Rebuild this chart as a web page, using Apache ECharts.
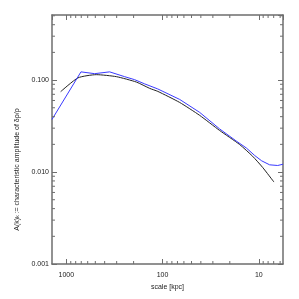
<!DOCTYPE html>
<html><head><meta charset="utf-8">
<script src="https://cdn.jsdelivr.net/npm/echarts@6/dist/echarts.min.js"></script>
<style>html,body{margin:0;padding:0;background:#fff}#c{width:299px;height:299px}</style>
</head><body><div id="c"></div>
<script>
// scale [kpc] and amplitude values
var scaleBlack = [1146, 757, 488, 302, 187, 136, 112, 66.4, 41.1, 25.5, 15.8, 11.6, 9.1, 6.95];
var ampBlack   = [0.0748, 0.1057, 0.1145, 0.1089, 0.0951, 0.0812, 0.0753, 0.0571, 0.0413, 0.0283, 0.0199, 0.01486, 0.0112, 0.00778];
var scaleBlue = [1411, 705, 508, 355, 248, 195, 153.5, 112.5, 66.4, 41.1, 25.5, 17.1, 13.45, 11.03, 9.33, 7.71, 6.36, 5.6];
var ampBlue   = [0.0373, 0.1228, 0.1174, 0.1228, 0.1089, 0.101, 0.0909, 0.0802, 0.0616, 0.0445, 0.0294, 0.0217, 0.01825, 0.01513, 0.01324, 0.01198, 0.01178, 0.01216];
var xTickLabels = [1000, 100, 10];
var yTickLabels = [0.1, 0.01, 0.001];
var minorX = [900, 800, 700, 600, 500, 400, 300, 200, 90, 80, 70, 60, 50, 40, 30, 20, 9, 8, 7, 6];
var minorY = [0.5, 0.4, 0.3, 0.2, 0.09, 0.08, 0.07, 0.06, 0.05, 0.04, 0.03, 0.02, 0.009, 0.008, 0.007, 0.006, 0.005, 0.004, 0.003, 0.002];

var X_MIN = 5.6, X_MAX = 1410, Y_MIN = 0.001, Y_MAX = 0.51;
var axisCol = '#6e6e6e';
var font = 'Liberation Sans';

function isTick(v, list){ for (var i=0;i<list.length;i++){ if (Math.abs(v/list[i]-1) < 1e-6) return true; } return false; }

function xAxisDef(pos, showLabel){
  return {
    type: 'log', logBase: 10, position: pos, inverse: true, min: X_MIN, max: X_MAX,
    axisLine: {show: true, onZero: false, lineStyle: {color: axisCol, width: 1.5}},
    axisTick: {show: true, inside: true, length: 5, lineStyle: {color: axisCol, width: 1}},
    splitLine: {show: false},
    axisLabel: {show: showLabel, showMinLabel: false, showMaxLabel: false, margin: 8, color: '#222', fontFamily: font, fontSize: 7,
      formatter: function(v){ return isTick(v, xTickLabels) ? String(Math.round(v)) : ''; }},
    name: showLabel ? 'scale [kpc]' : '', nameLocation: 'middle', nameGap: 19,
    nameTextStyle: {color: '#222', fontFamily: font, fontSize: 7}
  };
}
function yAxisDef(pos, showLabel){
  return {
    type: 'log', logBase: 10, position: pos, min: Y_MIN, max: Y_MAX,
    axisLine: {show: true, onZero: false, lineStyle: {color: axisCol, width: 1.5}},
    axisTick: {show: true, inside: true, length: 5, lineStyle: {color: axisCol, width: 1}},
    splitLine: {show: false},
    axisLabel: {show: showLabel, showMinLabel: true, showMaxLabel: false, margin: 3, color: '#222', fontFamily: font, fontSize: 7,
      formatter: function(v){ return isTick(v, yTickLabels) ? v.toFixed(3) : ''; }},
    name: showLabel ? '{a|A(k)}{s|k}{a| := characteristic amplitude of δρ/ρ}' : '',
    nameLocation: 'middle', nameGap: 29,
    nameTextStyle: {color: '#222', fontFamily: font, fontSize: 7, padding: [0, 60, 0, 0],
      rich: {a: {fontFamily: font, fontSize: 7, color: '#222'}, s: {fontFamily: font, fontSize: 5, color: '#222', verticalAlign: 'bottom', padding: [3, 0, 0, 0]}}}
  };
}

function pairs(xs, ys){ return xs.map(function(x, i){ return [x, ys[i]]; }); }

var chart = echarts.init(document.getElementById('c'), null, {renderer: 'canvas'});
chart.setOption({
  animation: false,
  backgroundColor: '#fff',
  grid: {left: 52, right: 16, top: 15, bottom: 35, containLabel: false},
  xAxis: [xAxisDef('bottom', true), xAxisDef('top', false)],
  yAxis: [yAxisDef('left', true), yAxisDef('right', false)],
  series: [
    {type: 'line', xAxisIndex: 0, yAxisIndex: 0, data: pairs(scaleBlack, ampBlack), showSymbol: false, symbol: 'none',
     smooth: 0.2, lineStyle: {color: '#222', width: 1}, z: 3},
    {type: 'line', xAxisIndex: 0, yAxisIndex: 0, data: pairs(scaleBlue, ampBlue), showSymbol: false, symbol: 'none',
     lineStyle: {color: '#3a3aff', width: 1}, z: 4},
    {type: 'custom', xAxisIndex: 0, yAxisIndex: 0, silent: true, clip: false, z: 5,
     data: minorX.map(function(v){ return [v, 0.01]; }),
     renderItem: function(params, api){
       var cs = params.coordSys; var x = api.coord([api.value(0), 0.01])[0];
       var st = {stroke: axisCol, lineWidth: 1};
       var b = cs.y + cs.height;
       return {type: 'group', children: [
         {type: 'line', shape: {x1: x, y1: b, x2: x, y2: b - 3}, style: st},
         {type: 'line', shape: {x1: x, y1: cs.y, x2: x, y2: cs.y + 3}, style: st}
       ]};
     }},
    {type: 'custom', xAxisIndex: 0, yAxisIndex: 0, silent: true, clip: false, z: 5,
     data: minorY.map(function(v){ return [100, v]; }),
     renderItem: function(params, api){
       var cs = params.coordSys; var y = api.coord([100, api.value(1)])[1];
       var st = {stroke: axisCol, lineWidth: 1};
       var r = cs.x + cs.width;
       return {type: 'group', children: [
         {type: 'line', shape: {x1: cs.x, y1: y, x2: cs.x + 3, y2: y}, style: st},
         {type: 'line', shape: {x1: r, y1: y, x2: r - 3, y2: y}, style: st}
       ]};
     }}
  ]
});
</script></body></html>
